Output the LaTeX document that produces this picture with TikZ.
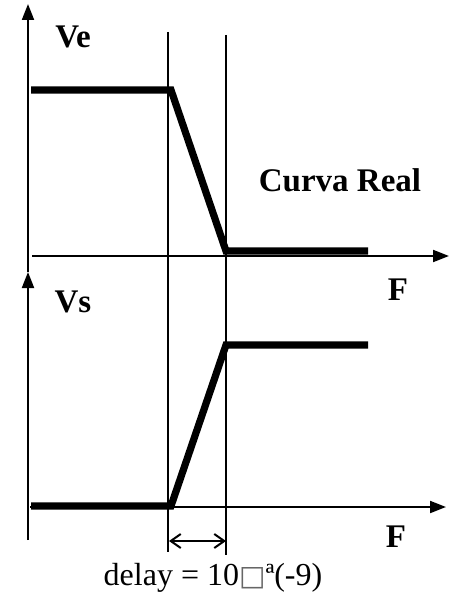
\documentclass[tikz,border=0pt]{standalone}
\usepackage{fontspec}
\setmainfont{Liberation Serif}
\newfontfamily\symfont{DejaVu Sans}
\usetikzlibrary{arrows.meta}

\begin{document}
\begin{tikzpicture}[x=0.5pt,y=-0.5pt,font=\fontsize{16}{19}\selectfont,
    axis/.style={line width=1pt,-{Triangle[length=8pt,width=6pt]}},
    guide/.style={line width=1.1pt},
    signal/.style={line width=3.6pt},
    lbl/.style={font=\fontsize{16.5}{19}\selectfont\bfseries,inner sep=0pt}]
  \useasboundingbox (0,0) rectangle (450,599);

  % axes
  \coordinate (ve0) at (28,272);
  \coordinate (vetop) at (28,4);
  \coordinate (f0) at (32,256);
  \coordinate (fend) at (449,256);
  \coordinate (vs0) at (28,540);
  \coordinate (vstop) at (28,272);
  \coordinate (g0) at (30,507);
  \coordinate (gend) at (446,507);
  \draw[axis] (ve0) -- (vetop);
  \draw[axis] (f0) -- (fend);
  \draw[axis] (vs0) -- (vstop);
  \draw[axis] (g0) -- (gend);

  % guide lines
  \coordinate (t1a) at (168,32);
  \coordinate (t1b) at (168,552);
  \coordinate (t2a) at (226,35);
  \coordinate (t2b) at (226,555);
  \draw[guide] (t1a) -- (t1b);
  \draw[guide] (t2a) -- (t2b);

  % input curve
  \coordinate (a1) at (31,90);
  \coordinate (a2) at (171,90);
  \coordinate (a3) at (226,251);
  \coordinate (a4) at (368,251);
  \draw[signal,line join=miter] (a1) -- (a2) -- (a3) -- (a4);

  % output curve
  \coordinate (b1) at (31,506);
  \coordinate (b2) at (171,506);
  \coordinate (b3) at (226,345);
  \coordinate (b4) at (368,345);
  \draw[signal,line join=miter] (b1) -- (b2) -- (b3) -- (b4);

  % delay
  \coordinate (d1) at (169,541);
  \coordinate (d2) at (226,541);
  \draw[line width=1pt,{Straight Barb[length=5pt,width=7pt]}-{Straight Barb[length=5pt,width=7pt]}] (d1) -- (d2);

  \node[lbl] (ve) at (73,37) {Ve};
  \node[lbl] (vs) at (73,302) {Vs};
  \node[lbl] (real) at (340,180) {Curva Real};
  \node[lbl] (fa) at (398,290) {F};
  \node[lbl] (fb) at (396,537) {F};
  \node[inner sep=0pt] (delay) at (213,578) {delay = 10{\symfont\fontsize{14}{16}\selectfont\color{black!60}□}ª(-9)};
\end{tikzpicture}
\end{document}
